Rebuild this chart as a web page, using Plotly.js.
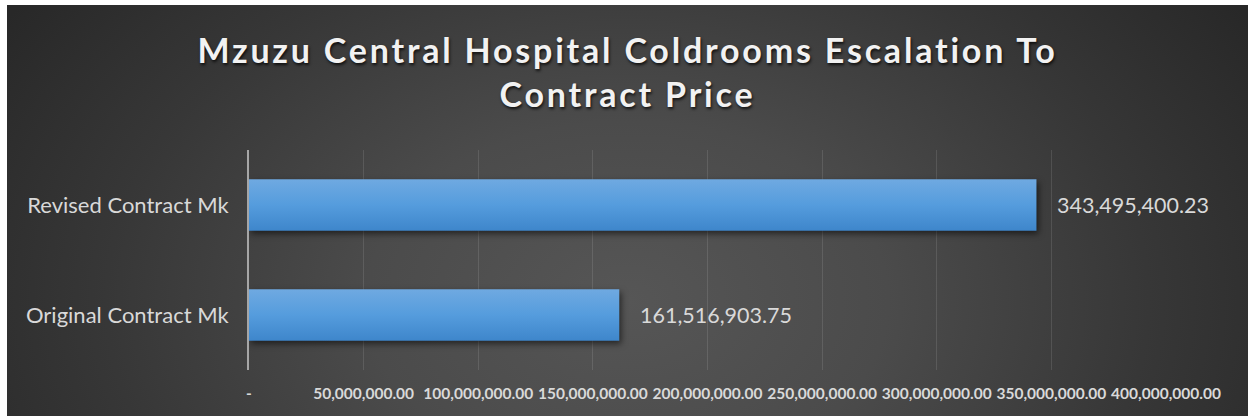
<!DOCTYPE html>
<html>
<head>
<meta charset="utf-8">
<script src="https://cdn.plot.ly/plotly-3.0.1.min.js"></script>
<style>
  html, body { margin: 0; padding: 0; background: #ffffff; width: 1248px; height: 416px; overflow: hidden; }
  #wrap {
    position: absolute; left: 7px; top: 5px; width: 1241px; height: 411px;
    background: radial-gradient(ellipse 60% 125% at 50% 72%, #565656 0%, #4b4b4b 35%, #373737 70%, #282828 100%);
  }
  #chart { width: 1241px; height: 411px; }
  .gtitle { letter-spacing: 2.8px; }
  .trace.bars .point path { filter: drop-shadow(2px 3px 3px rgba(0,0,0,0.55)); }
</style>
</head>
<body>
<div id="wrap"><div id="chart"></div></div>
<script>
const chartTitle = 'Mzuzu Central Hospital Coldrooms Escalation To<br>Contract Price';
const categories = ['Original Contract Mk', 'Revised Contract Mk'];
const values = [161516903.75, 343495400.23];
const tickValues = [0, 50000000, 100000000, 150000000, 200000000, 250000000, 300000000, 350000000, 400000000];
const tickLabels = ['-', '50,000,000.00', '100,000,000.00', '150,000,000.00', '200,000,000.00',
                    '250,000,000.00', '300,000,000.00', '350,000,000.00', '400,000,000.00'];

function fmt(v) {
  return v.toLocaleString('en-US', { minimumFractionDigits: 2, maximumFractionDigits: 2 });
}

const trace = {
  type: 'bar',
  orientation: 'h',
  y: categories,
  x: values,
  marker: { color: '#559bdc', line: { width: 0 } },
  hoverinfo: 'skip'
};

const annotations = values.map((v, i) => ({
  x: v, y: categories[i], xref: 'x', yref: 'y',
  text: fmt(v), showarrow: false, xanchor: 'left', yanchor: 'middle', xshift: 19,
  font: { family: 'Lato, sans-serif', size: 21.5, color: '#d9d9d9' }
}));

const layout = {
  width: 1241, height: 411,
  margin: { l: 242, r: 82, t: 145, b: 46 },
  paper_bgcolor: 'rgba(0,0,0,0)',
  plot_bgcolor: 'rgba(0,0,0,0)',
  showlegend: false,
  hovermode: false,
  bargap: 0.53,
  title: {
    text: chartTitle,
    x: 0.5, xref: 'container', xanchor: 'center',
    y: 0.859, yref: 'container', yanchor: 'middle',
    font: { family: 'Lato, sans-serif', size: 34, color: '#f2f2f2', weight: 700,
            shadow: '1px 2px 3px rgba(0,0,0,0.75)' }
  },
  xaxis: {
    range: [0, 400000000],
    tickvals: tickValues,
    ticktext: tickLabels,
    tickangle: 0,
    showgrid: true, gridcolor: 'rgba(255,255,255,0.11)', gridwidth: 1,
    zeroline: false, showline: false, ticks: '',
    ticklabelstandoff: 12,
    tickfont: { family: 'Lato, sans-serif', size: 15.5, color: '#d9d9d9', weight: 700 },
    fixedrange: true
  },
  yaxis: {
    type: 'category',
    showgrid: false, zeroline: false,
    showline: true, linecolor: '#a6a6a6', linewidth: 2,
    ticks: '', ticklabelstandoff: 14,
    tickfont: { family: 'Lato, sans-serif', size: 22, color: '#d9d9d9' },
    fixedrange: true
  },
  annotations: annotations
};

Plotly.newPlot('chart', [trace], layout, { displayModeBar: false, staticPlot: true }).then(gd => {
  const svg = gd.querySelector('svg.main-svg');
  const ns = 'http://www.w3.org/2000/svg';
  let defs = svg.querySelector('defs');
  if (!defs) { defs = document.createElementNS(ns, 'defs'); svg.insertBefore(defs, svg.firstChild); }
  const grad = document.createElementNS(ns, 'linearGradient');
  grad.setAttribute('id', 'barGrad');
  grad.setAttribute('x1', '0'); grad.setAttribute('y1', '0');
  grad.setAttribute('x2', '0'); grad.setAttribute('y2', '1');
  [['0%', '#6fa9e1'], ['50%', '#559cdd'], ['100%', '#3e86cb']].forEach(([o, c]) => {
    const s = document.createElementNS(ns, 'stop');
    s.setAttribute('offset', o); s.setAttribute('stop-color', c);
    grad.appendChild(s);
  });
  defs.appendChild(grad);
  gd.querySelectorAll('.trace.bars .point path').forEach(p => { p.style.fill = 'url(#barGrad)'; });
});
</script>
</body>
</html>
